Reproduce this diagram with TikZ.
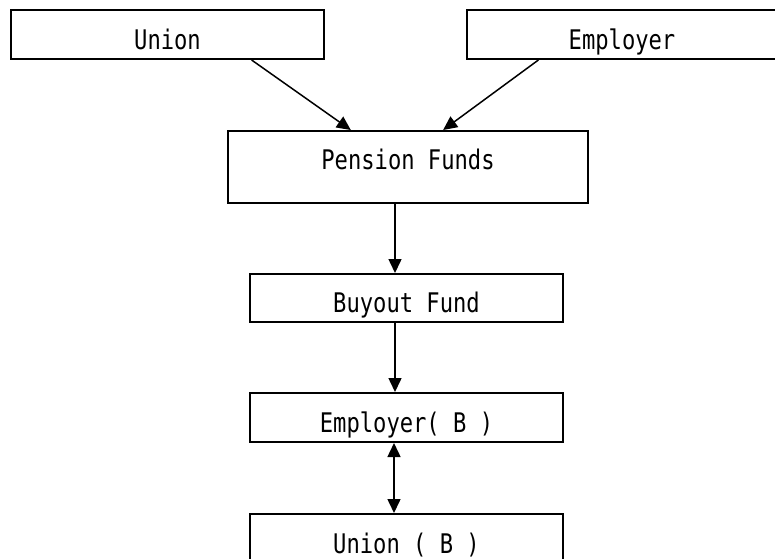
\documentclass[tikz,border=0pt]{standalone}
\usepackage{fontspec}
\setmonofont[FakeStretch=0.82]{DejaVu Sans Mono}
\usetikzlibrary{arrows.meta,calc}
\tikzset{
  box/.style={draw=black, line width=2pt, rectangle, inner sep=0pt, anchor=north west,
    font=\ttfamily\fontsize{27}{27}\selectfont, text height=29pt, text depth=0pt},
  conn/.style={line width=1.5pt, -{Triangle[length=14pt,width=13pt]}},
  dconn/.style={line width=1.5pt, {Triangle[length=14pt,width=13pt]}-{Triangle[length=14pt,width=13pt]}}
}
\begin{document}
\begin{tikzpicture}[x=1pt,y=-1pt]
\useasboundingbox (0,0) rectangle (775,558);
\clip (0,0) rectangle (775,558);
\node[box, minimum width=313pt, minimum height=49pt] (union) at (10,9) {Union};
\node[box, minimum width=310pt, minimum height=49pt] (employer) at (466,9) {Employer};
\node[box, minimum width=360pt, minimum height=72pt, text height=20pt, text depth=16pt] (pension) at (227,130) {Pension Funds};
\node[box, minimum width=313pt, minimum height=48pt, text height=28pt] (buyout) at (249,273) {Buyout Fund};
\node[box, minimum width=313pt, minimum height=49pt] (employerb) at (249,392) {Employer( B )};
\node[box, minimum width=313pt, minimum height=49pt] (unionb) at (249,513) {Union ( B )};
\coordinate (ax) at (395,0);
\coordinate (bx) at (394,0);
\draw[conn] ($(union.south west)!0.767!(union.south east)$) -- ($(pension.north west)!0.342!(pension.north east)$);
\draw[conn] ($(employer.south west)!0.232!(employer.south east)$) -- ($(pension.north west)!0.597!(pension.north east)$);
\draw[conn] (pension.south -| ax) -- (buyout.north -| ax);
\draw[conn] (buyout.south -| ax) -- (employerb.north -| ax);
\draw[dconn] (employerb.south -| bx) -- (unionb.north -| bx);
\end{tikzpicture}
\end{document}
